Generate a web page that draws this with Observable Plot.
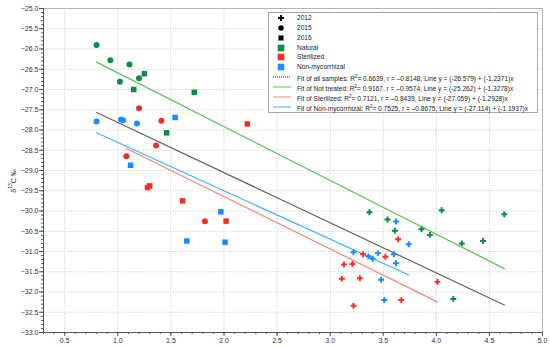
<!DOCTYPE html>
<html><head><meta charset="utf-8">
<script src="https://cdn.jsdelivr.net/npm/d3@7"></script>
<script src="https://cdn.jsdelivr.net/npm/@observablehq/plot@0.6"></script>
<style>
body{margin:0;background:#fff;font-family:"Liberation Sans",Arial,sans-serif;}
#wrap{position:relative;width:550px;height:347px;}
#wrap > svg{position:absolute;left:0;top:0;}
#legend{position:absolute;left:268px;top:12px;width:270px;height:101px;border:1px solid #aaa;background:#fff;box-sizing:border-box;}
.row{position:absolute;left:0;width:268px;height:10px;font-size:6.6px;color:#222;white-space:nowrap;line-height:10px;}
.row svg{position:absolute;left:0;top:0;}
.row span{position:absolute;left:28px;top:0;}
</style>
</head><body><div id="wrap"></div>
<script>
// ---- data ----
const groups = ["Natural","Sterilized","Non-mycorrhizal"];
const groupColors = ["#0a8d47","#f3301f","#1a8cff"];
const years = ["2012","2015","2016"];

const natural2015 = [[0.80,-25.90],[0.93,-26.28],[1.11,-26.38],[1.02,-26.81],[1.20,-26.72]];
const natural2016 = [[1.25,-26.61],[1.15,-27.00],[1.72,-27.07],[1.46,-28.07]];
const natural2012 = [[3.37,-30.03],[3.54,-30.21],[3.61,-30.49],[3.86,-30.45],[3.94,-30.59],[4.05,-29.98],[4.24,-30.80],[4.44,-30.74],[4.64,-30.08],[4.16,-32.17]];

const sterilized2015 = [[1.20,-27.46],[1.41,-27.77],[1.36,-28.38],[1.08,-28.65],[1.82,-30.25]];
const sterilized2016 = [[2.22,-27.85],[1.61,-29.75],[2.02,-30.25],[1.28,-29.42],[1.30,-29.38]];
const sterilized2012 = [[3.64,-30.70],[3.31,-31.07],[3.52,-31.13],[3.13,-31.32],[3.21,-31.31],[3.11,-31.67],[3.28,-31.66],[4.01,-31.75],[3.67,-32.20],[3.22,-32.34]];

const nonmyc2015 = [[0.80,-27.79],[1.03,-27.74],[1.05,-27.76],[1.18,-27.84]];
const nonmyc2016 = [[1.54,-27.69],[1.12,-28.87],[1.97,-30.02],[1.65,-30.74],[2.01,-30.77]];
const nonmyc2012 = [[3.62,-30.26],[3.74,-30.82],[3.22,-31.02],[3.36,-31.12],[3.40,-31.18],[3.45,-31.04],[3.60,-31.07],[3.62,-31.29],[3.48,-31.70],[3.51,-32.20]];

const fitNames = ["Fit of all samples","Fit of Not treated","Fit of Sterilized","Fit of Non-mycorrhizal"];
const fitGroups = ["all","Natural","Sterilized","Non-mycorrhizal"];
const fitR2 = ["0.6639","0.9167","0.7121","0.7525"];
const fitR = ["0.8148","0.9574","0.8439","0.8675"];
const fitIntercept = [-26.579,-25.262,-27.059,-27.114];
const fitSlope = [-1.2371,-1.3278,-1.2928,-1.1937];
const fitColors = ["#606060","#55c255","#f4876f","#3db5f5"];

const xTicks = [0.5,1.0,1.5,2.0,2.5,3.0,3.5,4.0,4.5,5.0];
const yTicks = [-25.0,-25.5,-26.0,-26.5,-27.0,-27.5,-28.0,-28.5,-29.0,-29.5,-30.0,-30.5,-31.0,-31.5,-32.0,-32.5,-33.0];

// ---- build table ----
const sets = [
  ["Natural","2015",natural2015],["Natural","2016",natural2016],["Natural","2012",natural2012],
  ["Sterilized","2015",sterilized2015],["Sterilized","2016",sterilized2016],["Sterilized","2012",sterilized2012],
  ["Non-mycorrhizal","2015",nonmyc2015],["Non-mycorrhizal","2016",nonmyc2016],["Non-mycorrhizal","2012",nonmyc2012]
];
const pts = [];
for (const [g,yr,arr] of sets) for (const [x,y] of arr) pts.push({x,y,group:g,year:yr});

const fitData = fitGroups.map((g,i)=>{
  const sub = g==="all" ? pts : pts.filter(p=>p.group===g);
  const [x0,x1] = d3.extent(sub,p=>p.x);
  return [x0,x1].map(x=>({x,y:fitIntercept[i]+fitSlope[i]*x}));
});

const minorX = d3.range(3,51).map(v=>v/10);
const minorY = d3.range(-330,-249).map(v=>v/10);
const fmt = d3.format(".1f");
const symbolOf = {"2012":"cross","2015":"circle","2016":"square"};
const rOf = {"2012":2.5,"2015":3.0,"2016":3.1};

const chart = Plot.plot({
  width:550, height:347,
  marginLeft:43, marginRight:8, marginTop:8, marginBottom:15,
  style:{fontFamily:"Liberation Sans, Arial, sans-serif", fontSize:"7px", color:"#333", background:"#fff"},
  x:{domain:[0.3,5.0], label:null},
  y:{domain:[-33,-25], label:null},
  color:{domain:groups, range:groupColors},
  marks:[
    Plot.gridX(xTicks,{stroke:"#cccccc",strokeOpacity:1,strokeDasharray:"1,1.5"}),
    Plot.gridY(yTicks,{stroke:"#cccccc",strokeOpacity:1,strokeDasharray:"1,1.5"}),
    Plot.frame({stroke:"#b5b5b5"}),
    Plot.axisX(minorX,{tickSize:2,tickFormat:()=>"",label:null,stroke:"#555"}),
    Plot.axisY(minorY,{tickSize:2,tickFormat:()=>"",label:null,stroke:"#555"}),
    Plot.axisX(xTicks,{tickSize:4,tickFormat:fmt,tickPadding:1.5,label:null,stroke:"#555",fill:"#333"}),
    Plot.axisY(yTicks,{tickSize:4,tickFormat:fmt,tickPadding:1,label:null,stroke:"#555",fill:"#333"}),
    Plot.ruleX([0.3],{stroke:"#555"}),
    Plot.ruleY([-33],{stroke:"#555"}),
    ...fitData.map((d,i)=>Plot.line(d,{x:"x",y:"y",stroke:fitColors[i],strokeWidth:1.2})),
    ...years.map(yr=>Plot.dot(pts.filter(p=>p.year===yr),{x:"x",y:"y",fill:"group",symbol:()=>symbolOf[yr],r:rOf[yr],stroke:null}))
  ]
});
const wrap = document.getElementById("wrap");
wrap.appendChild(chart);

// y-axis title
const yt = document.createElement("div");
yt.style.cssText="position:absolute;left:12px;top:181px;transform:translate(-50%,-50%) rotate(-90deg);font-size:7px;color:#333;white-space:nowrap;";
yt.innerHTML="δ<sup style='font-size:5px'>13</sup>C ‰";
wrap.appendChild(yt);

// legend
const leg = document.createElement("div");
leg.id="legend";
wrap.appendChild(leg);
const rows = [];
const symPaths = {"2012":d3.symbol(d3.symbolCross,20)(),"2015":d3.symbol(d3.symbolCircle,24)(),"2016":d3.symbol(d3.symbolSquare,26)()};
years.forEach(yr=>rows.push({kind:"sym",sym:symPaths[yr],color:"#000",label:yr}));
groups.forEach((g,i)=>rows.push({kind:"sym",sym:d3.symbol(d3.symbolSquare,44)(),color:groupColors[i],label:g}));
fitNames.forEach((n,i)=>rows.push({kind:"line",color:i===0?"#333":fitColors[i],dash:i===0?"1,1":null,
  label:`${n}: R<sup style="font-size:4.5px">2</sup>= ${fitR2[i]}, r = –${fitR[i]}, Line y = (${fitIntercept[i].toFixed(3)}) + (${fitSlope[i].toFixed(4)})x`}));
rows.forEach((r,i)=>{
  const row=document.createElement("div");
  row.className="row";
  row.style.top=(i*9.85)+"px";
  const icon = r.kind==="sym"
    ? `<svg width="24" height="10"><path d="${r.sym}" transform="translate(12,5)" fill="${r.color}"/></svg>`
    : `<svg width="24" height="10"><line x1="4" x2="22" y1="5" y2="5" stroke="${r.color}" stroke-width="1" ${r.dash?`stroke-dasharray="${r.dash}"`:""}/></svg>`;
  row.innerHTML = icon + `<span>${r.label}</span>`;
  leg.appendChild(row);
});
</script>
</body></html>
